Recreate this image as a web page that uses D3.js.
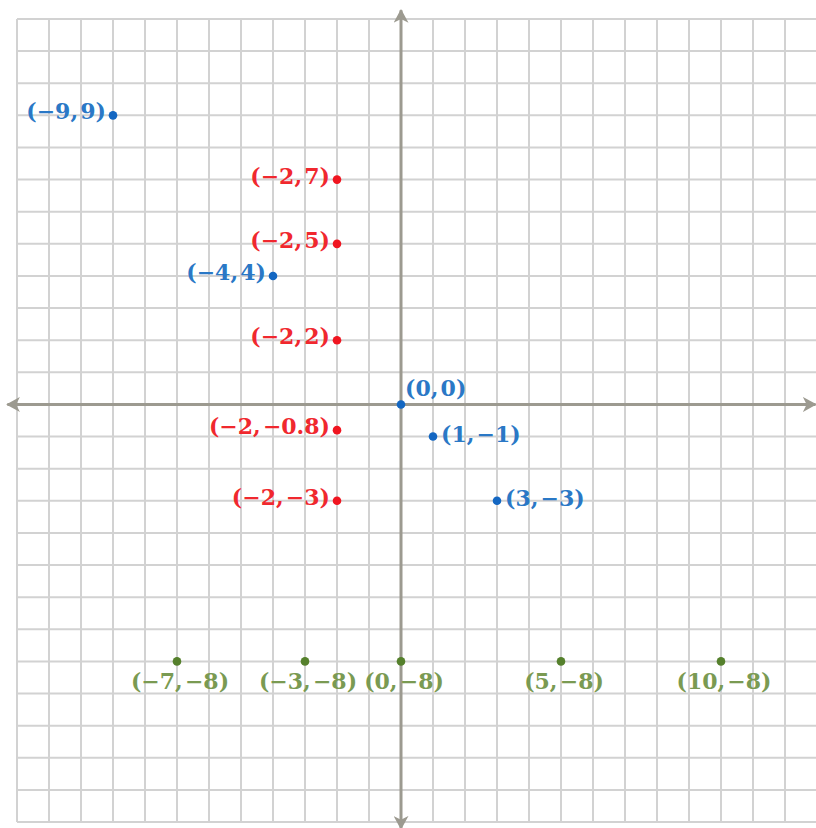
<!DOCTYPE html>
<html>
<head>
<meta charset="utf-8">
<script src="https://cdn.jsdelivr.net/npm/d3@7"></script>
<style>
html,body{margin:0;padding:0;background:#fff;}
svg{display:block;}
</style>
</head>
<body>
<svg id="chart" width="816" height="828"></svg>
<script>
// ---- data ----
const xDomain = [-12, 13];
const yDomain = [-13, 12];
const bluePoints = [[-9, 9], [-4, 4], [0, 0], [1, -1], [3, -3]];
const redPoints = [[-2, 7], [-2, 5], [-2, 2], [-2, -0.8], [-2, -3]];
const greenPoints = [[-7, -8], [-3, -8], [0, -8], [5, -8], [10, -8]];

const colors = {
  blue: {dot: "#1467c2", text: "#2a78c6"},
  red: {dot: "#f01520", text: "#f0282e"},
  green: {dot: "#55802c", text: "#7a9a52"}
};

const svg = d3.select("#chart");
const x = d3.scaleLinear().domain(xDomain).range([17, 817]);
const y = d3.scaleLinear().domain(yDomain).range([822, 19]);

// grid
const g = svg.append("g");
g.selectAll("line.v").data(d3.range(xDomain[0], xDomain[1] + 1)).join("line")
  .attr("x1", d => x(d)).attr("x2", d => x(d))
  .attr("y1", y(yDomain[1])).attr("y2", y(yDomain[0]))
  .attr("stroke", "#d2d2d2").attr("stroke-width", 2);
g.selectAll("line.h").data(d3.range(yDomain[0], yDomain[1] + 1)).join("line")
  .attr("x1", x(xDomain[0])).attr("x2", x(xDomain[1]))
  .attr("y1", d => y(d)).attr("y2", d => y(d))
  .attr("stroke", "#d2d2d2").attr("stroke-width", 2);

// arrow marker
const axisColor = "#9c9a90";
svg.append("defs").append("marker")
  .attr("id", "arr").attr("viewBox", "0 0 12 12")
  .attr("refX", 10).attr("refY", 6)
  .attr("markerWidth", 5).attr("markerHeight", 5)
  .attr("markerUnits", "strokeWidth")
  .attr("orient", "auto-start-reverse")
  .append("path").attr("d", "M0,0 L11,6 L0,12 L3,6 Z").attr("fill", axisColor);

// axes
svg.append("line")
  .attr("x1", x(-12.3)).attr("x2", x(12.95))
  .attr("y1", y(0)).attr("y2", y(0))
  .attr("stroke", axisColor).attr("stroke-width", 3)
  .attr("marker-start", "url(#arr)").attr("marker-end", "url(#arr)");
svg.append("line")
  .attr("x1", x(0)).attr("x2", x(0))
  .attr("y1", y(12.27)).attr("y2", y(-13.2))
  .attr("stroke", axisColor).attr("stroke-width", 3)
  .attr("marker-start", "url(#arr)").attr("marker-end", "url(#arr)");

// points & labels
const fmt = v => String(v).replace("-", "\u2212");
const all = [
  ...bluePoints.map(p => ({s: "blue", x: p[0], y: p[1]})),
  ...redPoints.map(p => ({s: "red", x: p[0], y: p[1]})),
  ...greenPoints.map(p => ({s: "green", x: p[0], y: p[1]}))
];

function place(d) {
  if (d.s === "green") return {dx: 3, dy: 28, anchor: "middle"};
  if (d.x < 0) return {dx: -7, dy: 4, anchor: "end"};
  if (d.x === 0 && d.y === 0) return {dx: 4, dy: -8, anchor: "start"};
  return {dx: 8, dy: 5, anchor: "start"};
}

const pg = svg.append("g");
pg.selectAll("circle").data(all).join("circle")
  .attr("cx", d => x(d.x)).attr("cy", d => y(d.y))
  .attr("r", 4.3).attr("fill", d => colors[d.s].dot);

pg.selectAll("text").data(all).join("text")
  .attr("x", d => x(d.x) + place(d).dx)
  .attr("y", d => y(d.y) + place(d).dy)
  .attr("text-anchor", d => place(d).anchor)
  .attr("font-family", "'DejaVu Serif', serif")
  .attr("font-weight", "bold")
  .attr("font-size", 22)
  .attr("fill", d => colors[d.s].text)
  .text(d => `(${fmt(d.x)},\u200A${fmt(d.y)})`);
</script>
</body>
</html>
